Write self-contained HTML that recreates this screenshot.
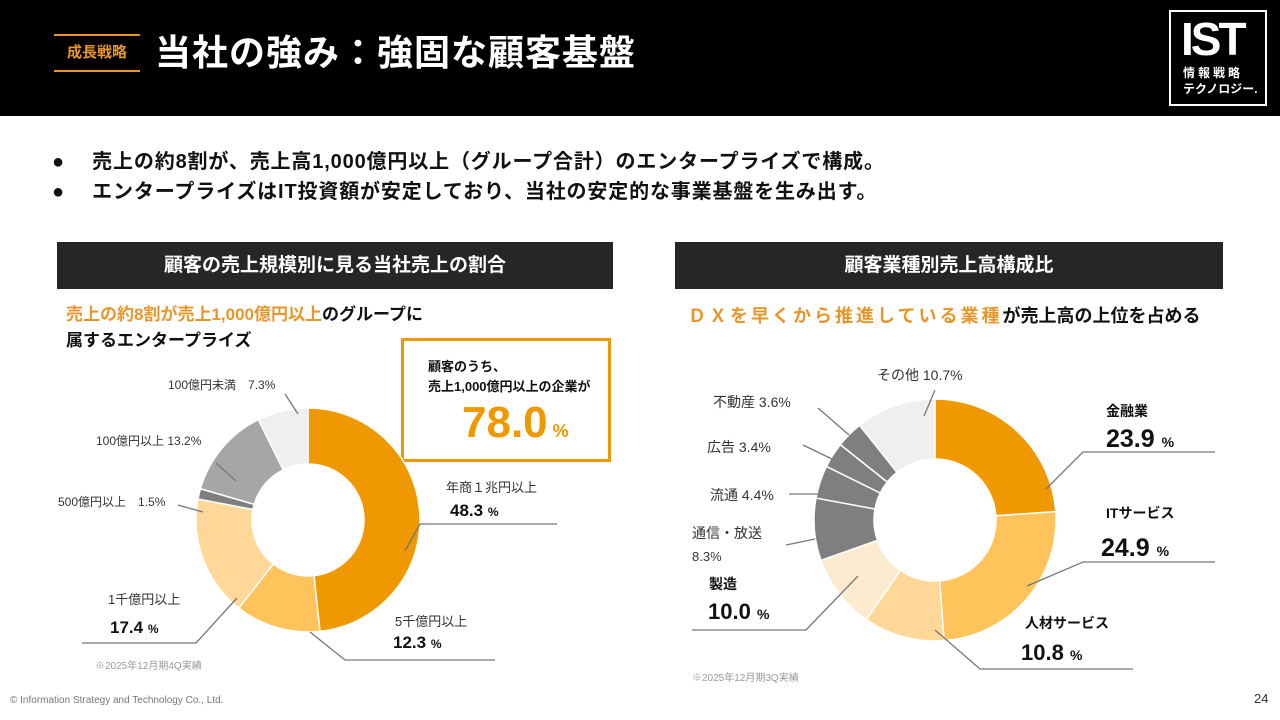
<!DOCTYPE html>
<html><head><meta charset="utf-8">
<style>
*{margin:0;padding:0;box-sizing:border-box}
body{width:1280px;height:720px;position:relative;background:#fff;font-family:"Liberation Sans","Noto Sans CJK JP",sans-serif;overflow:hidden;color:#111}
.abs{position:absolute;white-space:nowrap}
</style></head><body>
<div class="abs" style="left:0;top:0;width:1280px;height:116px;background:#000"></div>
<div class="abs" style="left:54px;top:34px;width:86px;height:38px;border-top:2px solid #E8962A;border-bottom:2px solid #E8962A;color:#E8962A;font-size:15px;font-weight:bold;text-align:center;line-height:34px">成長戦略</div>
<div class="abs" style="left:155px;top:29px;color:#fff;font-size:36px;font-weight:bold;line-height:48px;letter-spacing:1px">当社の強み：強固な顧客基盤</div>
<div class="abs" style="left:1169px;top:10px;width:98px;height:96px;border:2px solid #fff;color:#fff">
  <div class="abs" style="left:10px;top:4px;font-size:46px;font-weight:900;letter-spacing:-3px;line-height:46px">IST</div>
  <div class="abs" style="left:12px;top:54px;font-size:12px;font-weight:bold;letter-spacing:3px;line-height:14px">情報戦略</div>
  <div class="abs" style="left:12px;top:70px;font-size:12px;font-weight:bold;line-height:14px">テクノロジー.</div>
</div>
<div class="abs" style="left:52px;top:148px;font-size:20px;font-weight:bold;line-height:28px;letter-spacing:0.85px">●　 売上の約8割が、売上高1,000億円以上（グループ合計）のエンタープライズで構成。</div>
<div class="abs" style="left:52px;top:178px;font-size:20px;font-weight:bold;line-height:28px;letter-spacing:0.85px">●　 エンタープライズはIT投資額が安定しており、当社の安定的な事業基盤を生み出す。</div>

<div class="abs" style="left:57px;top:242px;width:556px;height:47px;background:#262626;color:#fff;font-size:19px;font-weight:bold;text-align:center;line-height:47px">顧客の売上規模別に見る当社売上の割合</div>
<div class="abs" style="left:675px;top:242px;width:548px;height:47px;background:#262626;color:#fff;font-size:19px;font-weight:bold;text-align:center;line-height:47px">顧客業種別売上高構成比</div>
<div class="abs" style="left:66px;top:302px;font-size:17px;font-weight:bold;line-height:26px"><span style="color:#E8962A">売上の約8割が売上1,000億円以上</span>のグループに<br>属するエンタープライズ</div>
<div class="abs" style="left:688px;top:303px;font-size:18px;font-weight:bold;line-height:26px"><span style="color:#E8962A;letter-spacing:3px">ＤＸを早くから推進している業種</span>が売上高の上位を占める</div>

<div class="abs" style="left:401px;top:338px;width:210px;height:124px;border:3px solid #F09800">
  <div class="abs" style="left:24px;top:16px;font-size:13px;font-weight:bold;line-height:20px">顧客のうち、<br>売上1,000億円以上の企業が</div>
  <div class="abs" style="left:58px;top:56px;font-size:44px;font-weight:bold;color:#F09800;line-height:52px">78.0<span style="font-size:18px"> %</span></div>
</div>

<svg id="chart" class="abs" style="left:0;top:0" width="1280" height="720"></svg>

<div class="abs" style="left:95px;top:657px;font-size:10px;color:#999">※2025年12月期4Q実績</div>
<div class="abs" style="left:692px;top:669px;font-size:10px;color:#999">※2025年12月期3Q実績</div>
<div class="abs" style="left:10px;top:695px;font-size:10px;color:#777">© Information Strategy and Technology Co., Ltd.</div>
<div class="abs" style="left:1254px;top:691px;font-size:13px;color:#333">24</div>

<script>
const leftCategories=["年商1兆円以上","5千億円以上","1千億円以上","500億円以上","100億円以上","100億円未満"];
const leftValues=[48.3,12.3,17.4,1.5,13.2,7.3];
const leftColors=["#F09800","#FFC35C","#FFD899","#7F7F7F","#A6A6A6","#EFEFEF"];
const rightCategories=["金融業","ITサービス","人材サービス","製造","通信・放送","流通","広告","不動産","その他"];
const rightValues=[23.9,24.9,10.8,10.0,8.3,4.4,3.4,3.6,10.7];
const rightColors=["#F09800","#FFC35C","#FFD899","#FCEBCF","#7F7F7F","#7F7F7F","#7F7F7F","#7F7F7F","#EFEFEF"];

const NS="http://www.w3.org/2000/svg";
const svg=document.getElementById('chart');
function pt(cx,cy,r,a){return [cx+r*Math.sin(a),cy-r*Math.cos(a)];}
function donut(cx,cy,R,r,vals,cols,cats,prefix){
  const tot=vals.reduce((a,b)=>a+b,0);let acc=0;
  vals.forEach((v,i)=>{
    const a0=acc/tot*2*Math.PI;acc+=v;const a1=acc/tot*2*Math.PI;
    const lg=(a1-a0)>Math.PI?1:0;
    const p0=pt(cx,cy,R,a0),p1=pt(cx,cy,R,a1),q1=pt(cx,cy,r,a1),q0=pt(cx,cy,r,a0);
    const p=document.createElementNS(NS,'path');
    p.setAttribute('d',`M${p0}A${R},${R} 0 ${lg} 1 ${p1}L${q1}A${r},${r} 0 ${lg} 0 ${q0}Z`);
    p.setAttribute('fill',cols[i]);p.setAttribute('stroke','#fff');p.setAttribute('stroke-width','1.5');
    
    
    svg.appendChild(p);
  });
}
donut(308,520,112,56,leftValues,leftColors,leftCategories,'left');
donut(935,520,121,61,rightValues,rightColors,rightCategories,'right');

function line(pts){const l=document.createElementNS(NS,'polyline');l.setAttribute('points',pts);l.setAttribute('fill','none');l.setAttribute('stroke','#777');l.setAttribute('stroke-width','1.3');


svg.appendChild(l);}
function text(x,y,s,size,w,fill){const t=document.createElementNS(NS,'text');t.setAttribute('x',x);t.setAttribute('y',y);t.setAttribute('font-size',size);t.setAttribute('font-weight',w||'normal');t.setAttribute('fill',fill||'#333');t.setAttribute('font-family','"Liberation Sans","Noto Sans CJK JP",sans-serif');t.innerHTML=s;


svg.appendChild(t);}
const pct=v=>v.toFixed(1);
line("405,551 420,524 557,524");text(446,492,"年商１兆円以上",13);text(450,516,pct(leftValues[0])+' <tspan font-size="12">%</tspan>',17,'bold','#111');
line("310,632 345,660 495,660");text(395,626,"5千億円以上",13);text(393,648,pct(leftValues[1])+' <tspan font-size="12">%</tspan>',17,'bold','#111');
line("237,598 196,643 82,643");text(108,604,"1千億円以上",13);text(110,633,pct(leftValues[2])+' <tspan font-size="12">%</tspan>',17,'bold','#111');
line("178,505 203,512");text(58,506,"500億円以上　"+pct(leftValues[3])+"%",12);
line("216,463 236,481");text(96,445,"100億円以上 "+pct(leftValues[4])+"%",12);
line("285,394 298,414");text(168,389,"100億円未満　"+pct(leftValues[5])+"%",12);
line("1046,489 1083,452 1215,452");text(1106,416,"金融業",14,'bold','#111');text(1106,447,pct(rightValues[0])+' <tspan font-size="14">%</tspan>',25,'bold','#111');
line("1027,586 1083,562 1215,562");text(1106,518,"ITサービス",14,'bold','#111');text(1101,556,pct(rightValues[1])+' <tspan font-size="14">%</tspan>',25,'bold','#111');
line("935,630 980,669 1133,669");text(1025,628,"人材サービス",14,'bold','#111');text(1021,660,pct(rightValues[2])+' <tspan font-size="14">%</tspan>',22,'bold','#111');
line("858,576 806,630 692,630");text(709,589,"製造",14,'bold','#111');text(708,619,pct(rightValues[3])+' <tspan font-size="14">%</tspan>',22,'bold','#111');
line("786,545 815,539");text(692,538,"通信・放送",14);text(692,561,pct(rightValues[4])+"%",13);
line("789,494 818,494");text(710,500,"流通 "+pct(rightValues[5])+"%",14);
line("803,445 832,459");text(707,452,"広告 "+pct(rightValues[6])+"%",14);
line("818,408 849,435");text(713,407,"不動産 "+pct(rightValues[7])+"%",14);
line("935,390 924,416");text(877,380,"その他 "+pct(rightValues[8])+"%",14);
</script>
</body></html>
